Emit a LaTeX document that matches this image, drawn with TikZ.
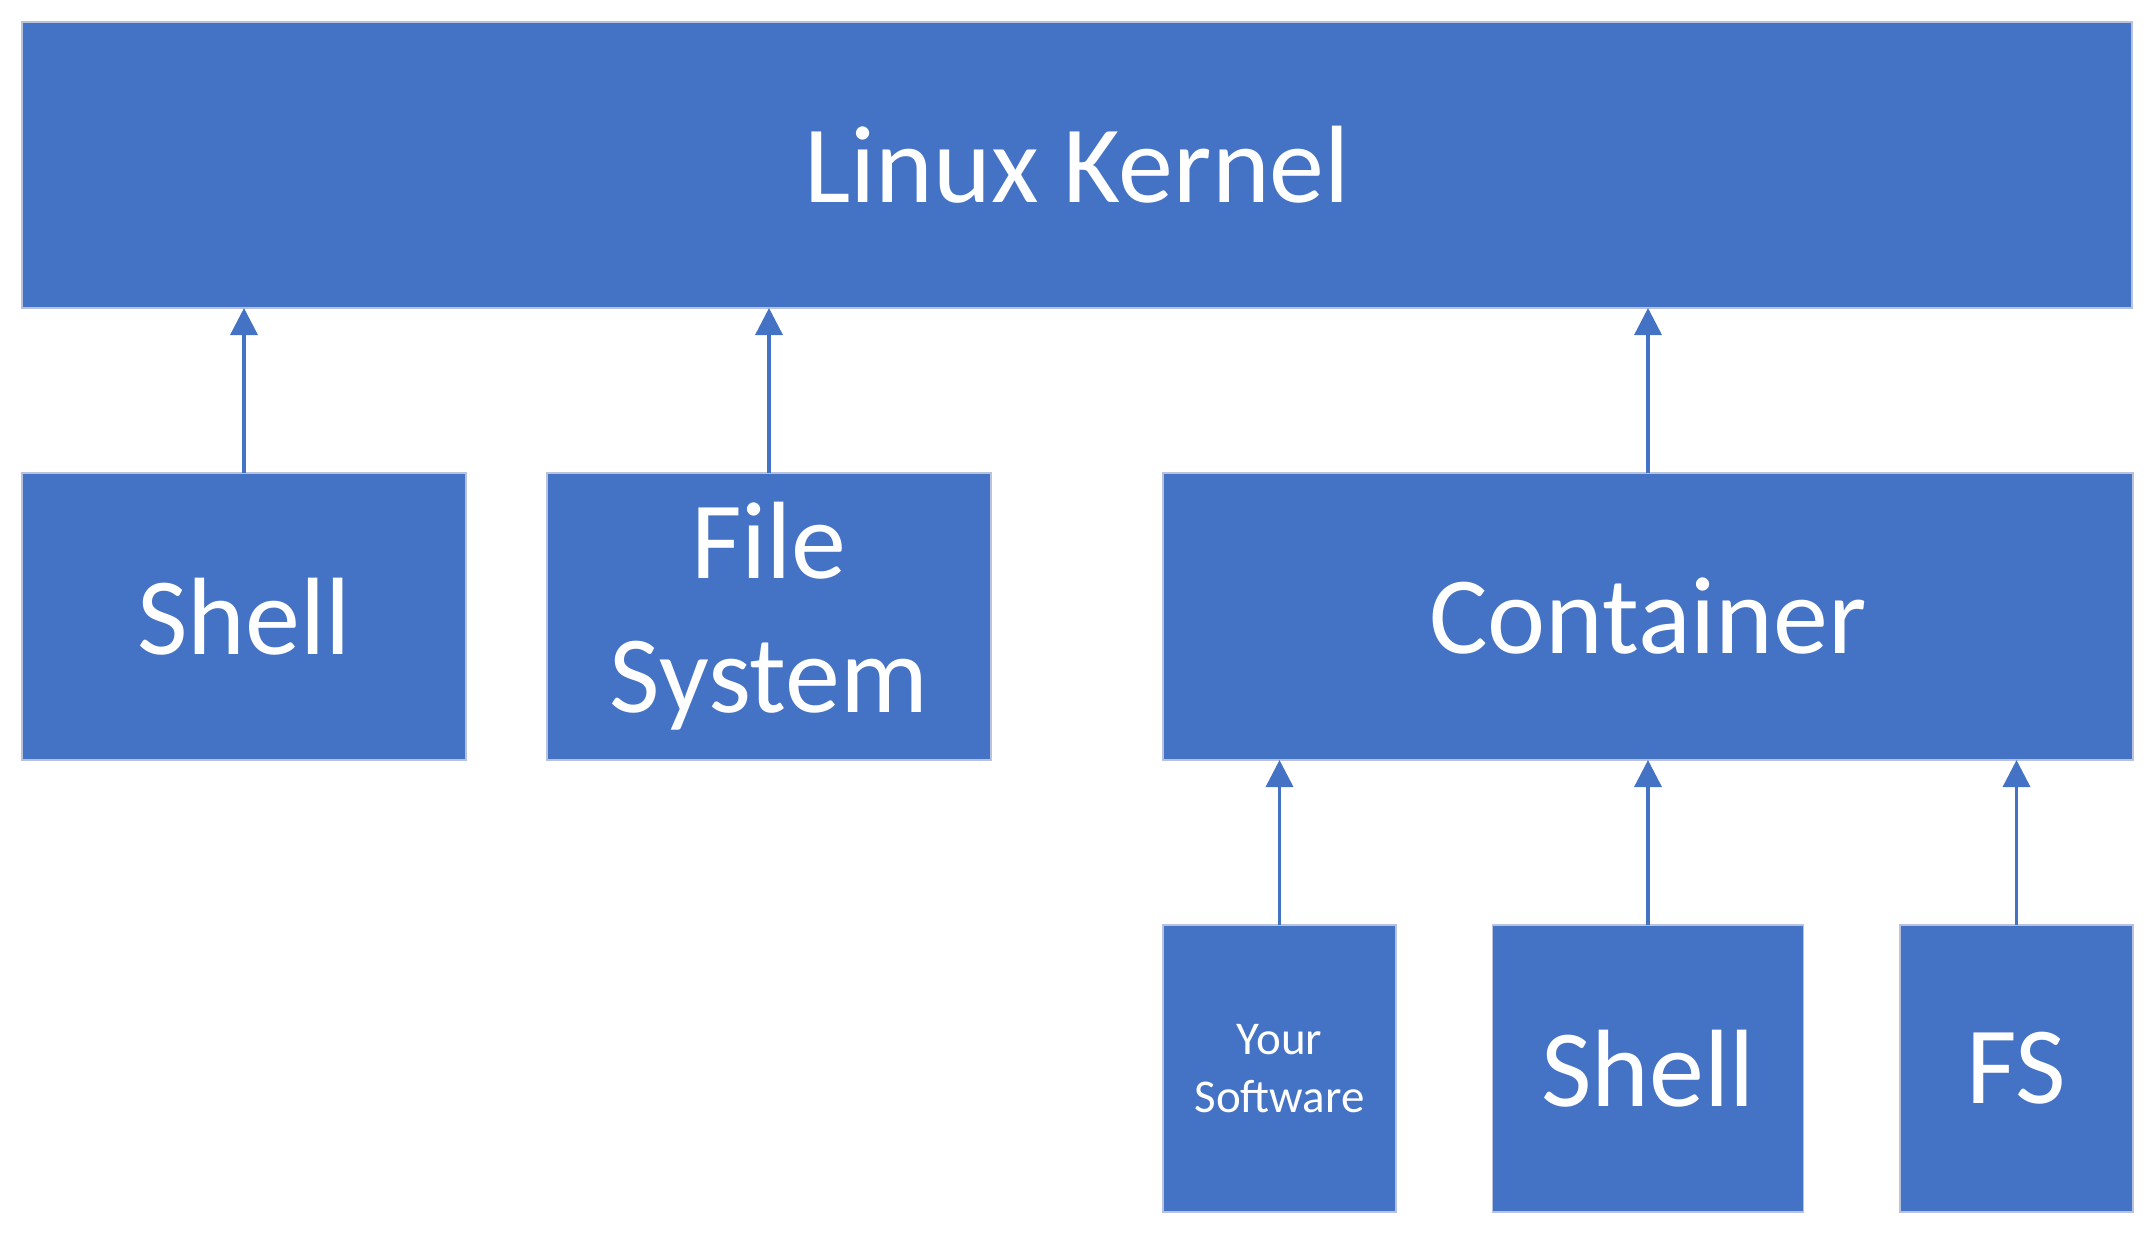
\documentclass[tikz,border=0pt]{standalone}
\usepackage{fontspec}
\setmainfont{Carlito}
\usetikzlibrary{arrows.meta}
\definecolor{boxblue}{HTML}{4472C4}
\definecolor{boxedge}{HTML}{B8C2DC}
\tikzset{
  blockbox/.style={fill=boxblue, draw=boxedge, line width=1.2bp, inner sep=0pt, outer sep=0pt,
    anchor=north west, text=white, align=center,
    font=\fontsize{110bp}{134bp}\selectfont},
  smallbox/.style={blockbox, font=\fontsize{47bp}{57.5bp}\selectfont},
  arr/.style={draw=boxblue, line width=3.5bp, -{Triangle[width=27bp,length=27bp]}}
}
\begin{document}
\begin{tikzpicture}[x=1bp,y=-1bp]
\useasboundingbox (0,0) rectangle (2154,1234);
\node[blockbox, minimum width=2110bp, minimum height=286bp] (kernel) at (22,22) {Linux Kernel};
\node[blockbox, minimum width=444bp, minimum height=287bp] (shellA) at (22,473) {Shell};
\node[blockbox, minimum width=444bp, minimum height=287bp] (fsA) at (547,473) {File\\System};
\node[blockbox, minimum width=970bp, minimum height=287bp] (cont) at (1163,473) {Container};
\node[smallbox, minimum width=233bp, minimum height=287bp] (soft) at (1163,925) {Your\\Software};
\node[blockbox, minimum width=311bp, minimum height=287bp] (shellB) at (1492.5,925) {Shell};
\node[blockbox, minimum width=233bp, minimum height=287bp] (fsB) at (1900,925) {FS};
\draw[arr] (shellA.north) -- (shellA.north |- kernel.south);
\draw[arr] (fsA.north) -- (fsA.north |- kernel.south);
\draw[arr] (cont.north) -- (cont.north |- kernel.south);
\draw[arr] (soft.north) -- (soft.north |- cont.south);
\draw[arr] (shellB.north) -- (shellB.north |- cont.south);
\draw[arr] (fsB.north) -- (fsB.north |- cont.south);
\end{tikzpicture}
\end{document}
